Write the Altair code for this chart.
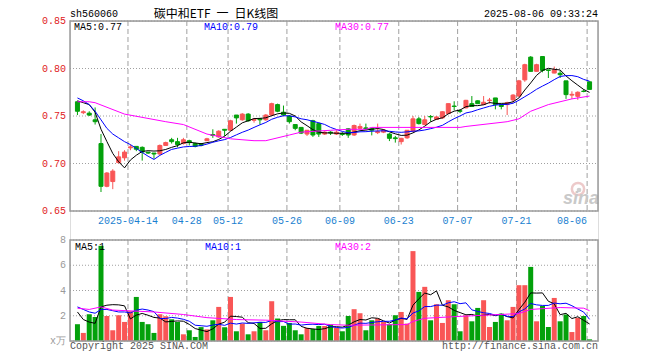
import altair as alt
import pandas as pd

# ---------------- data ----------------
dates = ["03-31",
 "04-01","04-02","04-03","04-07","04-08","04-09","04-10","04-11","04-14","04-15","04-16","04-17","04-18",
 "04-21","04-22","04-23","04-24","04-25","04-28","04-29","04-30",
 "05-06","05-07","05-08","05-09","05-12","05-13","05-14","05-15","05-16","05-19","05-20","05-21","05-22","05-23",
 "05-26","05-27","05-28","05-29","05-30",
 "06-03","06-04","06-05","06-06","06-09","06-10","06-11","06-12","06-13","06-16","06-17","06-18","06-19","06-20",
 "06-23","06-24","06-25","06-26","06-27","06-30",
 "07-01","07-02","07-03","07-04","07-07","07-08","07-09","07-10","07-11","07-14","07-15","07-16","07-17","07-18",
 "07-21","07-22","07-23","07-24","07-25","07-28","07-29","07-30","07-31",
 "08-01","08-04","08-05","08-06"]

opens = [.765,.7535,.753,.746,.721,.676,.681,.701,.706,.7165,.718,.717,.712,.711,.710,.719,.725,.723,.721,.724,
         .721,.721,.724,.7305,.728,.736,.735,.751,.746,.752,.7455,.747,.746,.751,.762,.754,.750,.741,.738,.731,
         .745,.742,.731,.733,.731,.7315,.7365,.730,.737,.7375,.737,.7325,.733,.731,.727,.723,.727,.734,.747,.741,
         .7495,.7465,.748,.7526,.7605,.7555,.7586,.763,.766,.762,.7662,.769,.762,.762,.767,.771,.788,.812,.797,.8126,
         .7985,.7952,.795,.787,.772,.7707,.7762,.786]
highs = [.766,.756,.755,.759,.731,.691,.694,.713,.714,.720,.718,.718,.712,.711,.720,.723,.727,.727,.727,.725,
         .722,.721,.727,.736,.735,.736,.746,.751,.753,.753,.748,.748,.752,.764,.763,.761,.751,.741,.738,.735,
         .746,.743,.734,.734,.735,.733,.737,.741,.742,.742,.737,.742,.736,.732,.729,.727,.735,.750,.749,.750,
         .751,.750,.755,.763,.7655,.757,.767,.771,.7665,.771,.769,.769,.762,.765,.773,.788,.805,.813,.805,.8126,
         .7985,.802,.798,.787,.776,.776,.778,.786]
lows = [.751,.752,.750,.741,.670,.675,.673,.700,.703,.714,.713,.703,.710,.705,.709,.719,.721,.717,.720,.719,
        .717,.718,.724,.727,.727,.729,.734,.742,.745,.744,.743,.741,.745,.750,.754,.750,.742,.735,.731,.729,
        .728,.728,.730,.730,.730,.729,.727,.729,.736,.735,.7296,.731,.732,.7236,.722,.720,.726,.734,.741,.741,
        .744,.746,.747,.752,.756,.753,.758,.760,.763,.762,.763,.757,.757,.751,.764,.770,.786,.797,.797,.796,
        .790,.795,.790,.768,.768,.767,.775,.778]
closes = [.755,.7545,.751,.744,.676,.690,.692,.707,.712,.7175,.715,.712,.711,.710,.719,.722,.723,.720,.725,.722,
          .718,.719,.726,.7295,.734,.735,.745,.748,.752,.745,.7465,.746,.751,.763,.755,.751,.744,.737,.732,.735,
          .730,.731,.733,.732,.733,.7305,.730,.740,.739,.7365,.735,.7335,.735,.7265,.7262,.7265,.735,.747,.742,.746,
          .749,.749,.7545,.763,.760,.755,.7665,.760,.763,.7645,.7668,.762,.760,.764,.772,.787,.804,.797,.804,.798,
          .798,.7987,.7935,.7725,.7728,.775,.7758,.778]
volumes = [1.33,0.64,2.12,1.90,7.54,1.98,0.85,2.04,1.51,2.36,3.49,1.51,1.33,0.64,2.12,1.96,1.72,1.51,0.53,0.85,
           0.32,1.10,0.92,1.64,2.70,1.09,3.49,0.77,1.38,0.53,0.77,1.51,0.85,3.15,1.78,1.20,1.43,0.85,0.53,1.03,
           0.95,1.19,1.19,1.30,1.03,0.77,1.98,2.52,2.20,0.85,1.64,1.78,1.51,1.33,2.04,2.30,1.38,7.12,3.89,4.29,
           1.64,2.91,1.43,3.23,2.91,0.77,2.04,1.56,2.62,3.23,1.11,1.51,2.17,1.64,2.70,4.42,4.42,5.87,1.56,2.78,
           1.11,3.41,1.56,2.10,0.71,1.83,1.98,0.13]

# moving-average values read at the start of the window (earlier days not shown)
ma5_head = [0.766, 0.764, 0.762, 0.754]
ma10_head = [0.769, 0.766, 0.762, 0.755, 0.746, 0.737, 0.731, 0.727, 0.723]
ma30_idx = [0, 2, 3, 8, 15, 18, 22, 26, 30, 32, 36, 38, 43, 46, 49, 50, 65, 66, 73, 75, 77, 80, 84, 87]
ma30_val = [.765, .765, .764, .752, .744, .741, .731, .726, .724, .724, .730, .733, .735, .736, .736, .738,
            .738, .739, .744, .747, .755, .762, .768, .771]
vma5_head = [2.3, 1.7, 1.5, 1.4]
vma10_head = [2.7, 2.5, 2.3, 2.2, 2.5, 2.5, 2.4, 2.3, 2.3]
vma30_idx = [0, 2, 4, 6, 13, 18, 22, 27, 32, 38, 43, 46, 56, 57, 59, 65, 75, 77, 82, 86, 87]
vma30_val = [2.6, 2.5, 2.7, 2.45, 2.3, 2.1, 1.85, 1.7, 1.65, 1.5, 1.3, 1.25, 1.3, 1.55, 1.8, 1.95, 2.17, 2.5,
             2.65, 2.6, 2.4]

tick_dates = ["04-14", "04-28", "05-12", "05-26", "06-09", "06-23", "07-07", "07-21", "08-06"]
tick_labels = ["2025-04-14", "04-28", "05-12", "05-26", "06-09", "06-23", "07-07", "07-21", "08-06"]

price_ticks = [0.65, 0.70, 0.75, 0.80, 0.85]
vol_ticks = [0, 2, 4, 6, 8]
vol_tick_labels = ["x万", "2", "4", "6", "8"]

# ---------------- tables ----------------
N = len(dates)


def moving(values, n, head):
    out = []
    for i in range(len(values)):
        out.append(head[i] if i < n - 1 else sum(values[i - n + 1:i + 1]) / n)
    return out


df = pd.DataFrame({
    "i": list(range(N)), "date": dates, "open": opens, "high": highs, "low": lows,
    "close": closes, "vol": volumes,
    "ma5": moving(closes, 5, ma5_head), "ma10": moving(closes, 10, ma10_head),
    "vma5": moving(volumes, 5, vma5_head), "vma10": moving(volumes, 10, vma10_head),
})
ma30_df = pd.DataFrame({"i": ma30_idx, "v": ma30_val})
vma30_df = pd.DataFrame({"i": vma30_idx, "v": vma30_val})
tick_idx = [dates.index(d) for d in tick_dates]
ticks_df = pd.DataFrame({"t": tick_idx, "lab": tick_labels})
pt_df = pd.DataFrame({"p": price_ticks})
vt_df = pd.DataFrame({"v": vol_ticks, "lab": vol_tick_labels})

# ---------------- styles ----------------
W, H = 528, 320
P_BOT = 190          # bottom of the price panel (px)
V_TOP, V_BOT = 219, 320
RED, GREEN = "#f95656", "#03a10b"
MONO = "Liberation Mono"
GRID = "#a0a0a0"

xs = alt.Scale(domain=[0, N], nice=False, zero=False)
ps = alt.Scale(domain=[0.65, 0.85], range=[P_BOT, 0], nice=False, zero=False)
vs = alt.Scale(domain=[0, 8], range=[V_BOT, V_TOP], nice=False, zero=False)
col = alt.Color("dir:N", scale=alt.Scale(domain=["up", "down"], range=[RED, GREEN]), legend=None)

base = alt.Chart(df).transform_calculate(
    xc="datum.i + 2.5/6", dir="datum.close >= datum.open ? 'up' : 'down'")


def txt(s, x, y, color="#000000", size=10, align="left", font=MONO, **kw):
    return alt.Chart(alt.Data(values=[{"t": s}])).mark_text(
        align=align, baseline="middle", font=font, fontSize=size, color=color, **kw
    ).encode(x=alt.value(x), y=alt.value(y), text="t:N")


def frame(y0, y1):
    return alt.Chart(alt.Data(values=[{}])).mark_rect(fillOpacity=0, stroke="#9c9c9c", strokeWidth=1.5).encode(
        x=alt.value(0), x2=alt.value(W), y=alt.value(y0), y2=alt.value(y1))


def vgrid(y0, y1):
    return alt.Chart(ticks_df).mark_rule(color=GRID, strokeDash=[5, 3], strokeWidth=1).encode(
        x=alt.X("t:Q", scale=xs, axis=None), y=alt.value(y0), y2=alt.value(y1))


def hgrid(data, field, scale):
    return alt.Chart(data).mark_rule(color=GRID, strokeDash=[1, 2], strokeWidth=1).encode(
        y=alt.Y(f"{field}:Q", scale=scale, axis=None), x=alt.value(0), x2=alt.value(W))


# axis labels drawn through the same scales
p_labels = alt.Chart(pt_df).mark_text(align="right", baseline="middle", font=MONO, fontSize=10,
                                      color="#e01b1b").encode(
    y=alt.Y("p:Q", scale=ps, axis=None), x=alt.value(-4), text=alt.Text("p:Q", format=".2f"))
v_labels = alt.Chart(vt_df).mark_text(align="right", baseline="middle", font=MONO, fontSize=10,
                                      color="#9a9a9a").encode(
    y=alt.Y("v:Q", scale=vs, axis=None), x=alt.value(-4), text="lab:N")
d_labels = alt.Chart(ticks_df).transform_filter(f"datum.t < {N - 1}").mark_text(
    align="center", baseline="middle", font=MONO, fontSize=10, color="#1a7fd0").encode(
    x=alt.X("t:Q", scale=xs, axis=None), y=alt.value(P_BOT + 10), text="lab:N")
d_label_last = alt.Chart(ticks_df).transform_filter(f"datum.t >= {N - 1}").mark_text(
    align="right", baseline="middle", font=MONO, fontSize=10, color="#1a7fd0").encode(
    x=alt.X("t:Q", scale=xs, axis=None), y=alt.value(P_BOT + 10), text="lab:N")

# ---------------- price panel ----------------
wick = base.mark_rule(strokeWidth=1).encode(
    x=alt.X("xc:Q", scale=xs, axis=None),
    y=alt.Y("low:Q", scale=ps, axis=None), y2="high:Q", color=col)
body = base.mark_bar(size=4, strokeWidth=1).encode(
    x=alt.X("xc:Q", scale=xs, axis=None),
    y=alt.Y("open:Q", scale=ps, axis=None), y2="close:Q", color=col, stroke=col)


def pline(field, color, data=None):
    src = base if data is None else alt.Chart(data).transform_calculate(xc="datum.i + 2.5/6")
    return src.mark_line(color=color, strokeWidth=1).encode(
        x=alt.X("xc:Q", scale=xs, axis=None), y=alt.Y(f"{field}:Q", scale=ps, axis=None))


def vline(field, color, data=None):
    src = base if data is None else alt.Chart(data).transform_calculate(xc="datum.i + 2.5/6")
    return src.mark_line(color=color, strokeWidth=1).encode(
        x=alt.X("xc:Q", scale=xs, axis=None), y=alt.Y(f"{field}:Q", scale=vs, axis=None))


logo_ring = alt.Chart(alt.Data(values=[{}])).mark_point(
    shape="circle", size=150, filled=False, stroke="#e6b4b4", strokeWidth=2.5).encode(
    x=alt.value(508), y=alt.value(168))
logo_dot = alt.Chart(alt.Data(values=[{}])).mark_point(
    shape="circle", size=22, filled=True, color="#d0d0d0", opacity=1).encode(
    x=alt.value(509), y=alt.value(169))

price = alt.layer(
    vgrid(0, P_BOT), hgrid(pt_df, "p", ps),
    logo_ring, logo_dot,
    txt("sina", 511, 178, color="#c9c9c9", size=18, align="center", font="Liberation Sans",
        fontStyle="italic", fontWeight="bold"),
    wick, body,
    pline("ma5", "#000000"), pline("ma10", "#0000ff"), pline("v", "#ff00ff", ma30_df),
    frame(0, P_BOT),
    p_labels, d_labels, d_label_last,
    txt("MA5:0.77", 4, 6), txt("MA10:0.79", 134, 6, color="#0000ff"),
    txt("MA30:0.77", 265, 6, color="#ff00ff"),
    txt("sh560060", 0, -7),
    txt("碳中和ETF\u2002一\u2002日K线图", 146, -7, size=12, align="center", font="Noto Sans CJK SC"),
    txt("2025-08-06 09:33:24", W, -7, align="right"),
)

# ---------------- volume panel ----------------
vbar = base.mark_bar(size=5).encode(
    x=alt.X("xc:Q", scale=xs, axis=None),
    y=alt.Y("vol:Q", scale=vs, axis=None), color=col)

volume = alt.layer(
    vgrid(V_TOP, V_BOT), hgrid(vt_df, "v", vs),
    vbar,
    vline("vma5", "#000000"), vline("vma10", "#0000ff"), vline("v", "#ff00ff", vma30_df),
    frame(V_TOP, V_BOT),
    v_labels,
    txt("MA5:1", 5, V_TOP + 7), txt("MA10:1", 135, V_TOP + 7, color="#0000ff"),
    txt("MA30:2", 265, V_TOP + 7, color="#ff00ff"),
    txt("Copyright 2025 SINA.COM", 0, V_BOT + 5, color="#555555"),
    txt("http://finance.sina.com.cn", W, V_BOT + 5, color="#555555", align="right"),
)

chart = alt.layer(price, volume).resolve_scale(y="independent").properties(
    width=W, height=H,
    autosize=alt.AutoSizeParams(type="none"),
    padding={"left": 62, "top": 13, "right": 10, "bottom": 12},
).configure_view(strokeWidth=0).configure(background="#ffffff")

chart.save("out.html", embed_options={"renderer": "svg", "actions": False})
